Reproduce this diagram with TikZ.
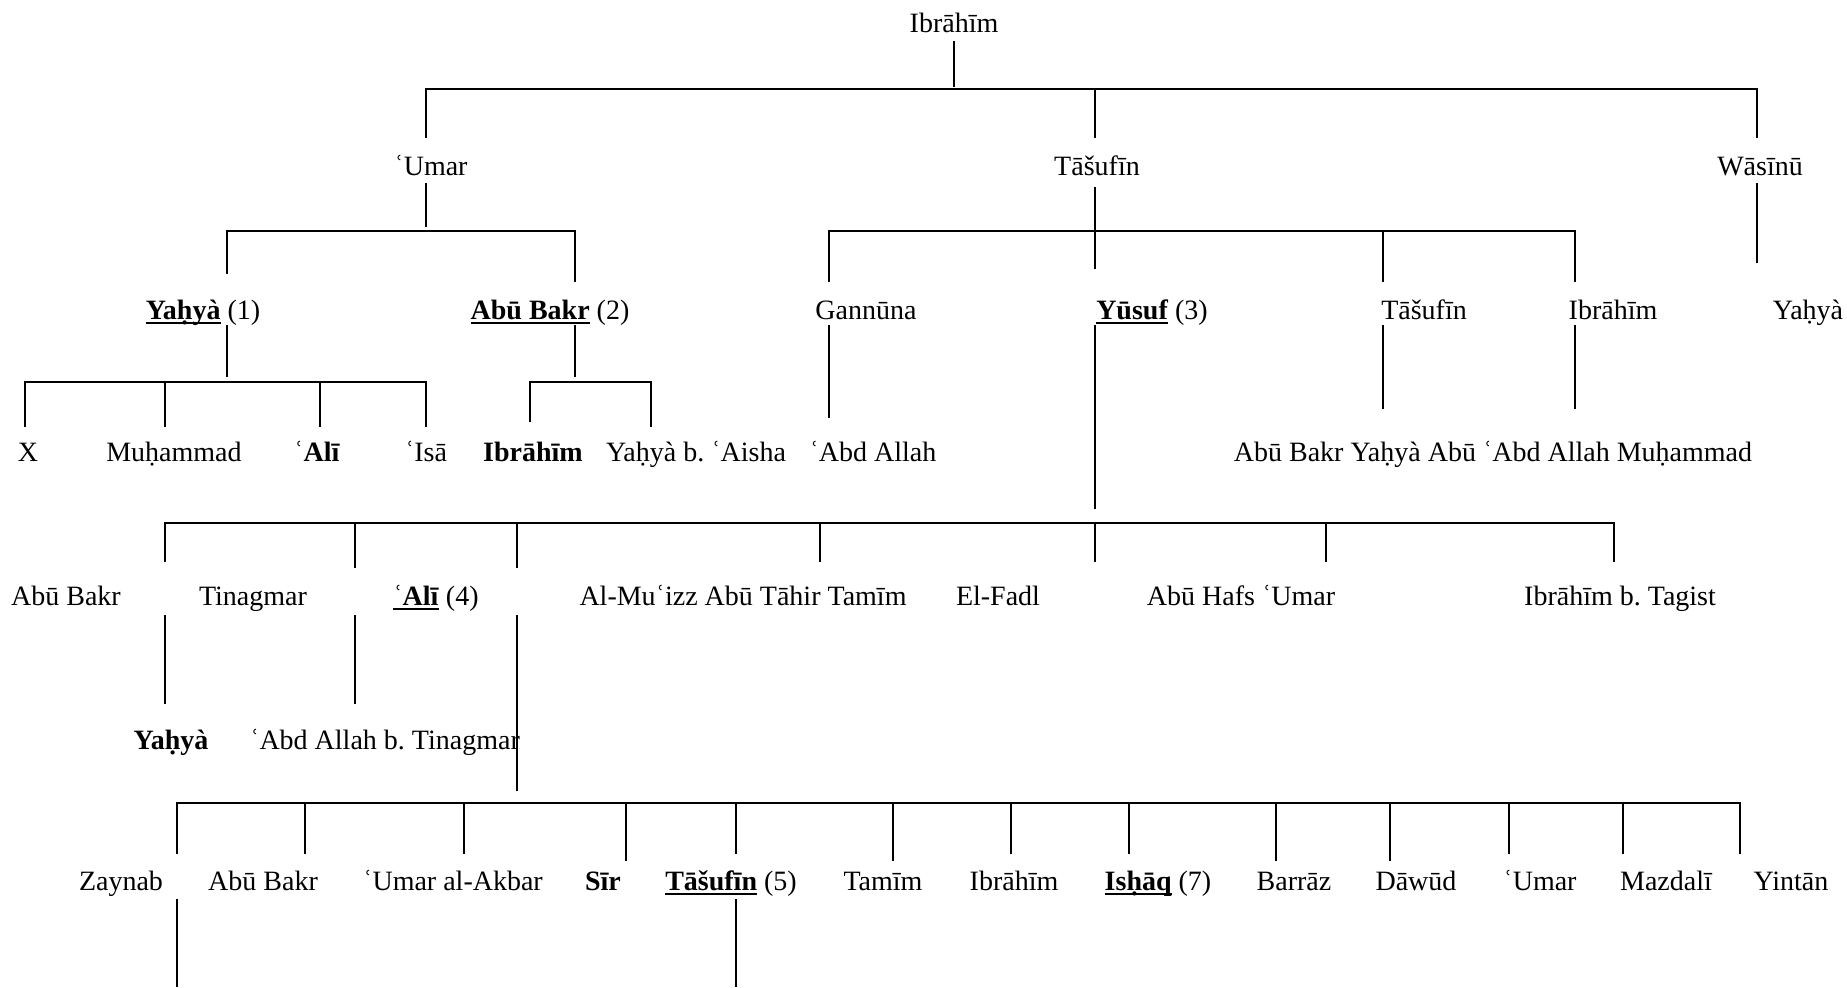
\documentclass[tikz,border=0pt]{standalone}
\usepackage{fontspec}
\setmainfont{Liberation Serif}
\frenchspacing
\newcommand\ulb[1]{\setbox0\hbox{\textbf{#1}}\rlap{\rule[-2pt]{\wd0}{0.9pt}}\box0\relax}
\tikzset{
  p/.style={inner sep=0pt, anchor=mid, font=\fontsize{14}{16}\selectfont},
  ln/.style={line width=0.8pt, line cap=butt},
}
\begin{document}
\begin{tikzpicture}[x=0.5pt,y=-0.5pt]
\useasboundingbox (0,0) rectangle (1847,987);
% row 1
\node[p] (ibrahim) at (954,28) {Ibrāhīm};
% row 2
\node[p] (umar) at (431,171) {ʿUmar};
\node[p] (tasufin) at (1097,171) {Tāšufīn};
\node[p] (wasinu) at (1760,171) {Wāsīnū};
% row 3
\node[p] (yahya1) at (203,315) {\ulb{Yaḥyà} (1)};
\node[p] (abubakr2) at (550,315) {\ulb{Abū Bakr} (2)};
\node[p] (gannuna) at (866,315) {Gannūna};
\node[p] (yusuf) at (1152,315) {\ulb{Yūsuf} (3)};
\node[p] (tasufinB) at (1424,315) {Tāšufīn};
\node[p] (ibrahimB) at (1613,315) {Ibrāhīm};
\node[p] (yahyaW) at (1808,315) {Yaḥyà};
% row 4
\node[p] (x) at (28,457) {X};
\node[p] (muhammad) at (174,457) {Muḥammad};
\node[p] (ali) at (317,457) {ʿ\textbf{Alī}};
\node[p] (isa) at (426,457) {ʿIsā};
\node[p] (ibrahimC) at (533,457) {\textbf{Ibrāhīm}};
\node[p] (yahyaA) at (696,457) {Yaḥyà b. ʿAisha};
\node[p] (abdallah) at (873,457) {ʿAbd Allah};
\node[p] (abubakrY) at (1493,457) {Abū Bakr Yaḥyà Abū ʿAbd Allah Muḥammad};
% row 5
\node[p] (abubakrC) at (66,601) {Abū Bakr};
\node[p] (tinagmar) at (253,601) {Tinagmar};
\node[p] (ali4) at (436,601) {\ulb{ʿAlī} (4)};
\node[p] (muizz) at (743,601) {Al-Muʿizz Abū Tāhir Tamīm};
\node[p] (fadl) at (998,601) {El-Fadl};
\node[p] (hafs) at (1241,601) {Abū Hafs ʿUmar};
\node[p] (tagist) at (1620,601) {Ibrāhīm b. Tagist};
% row 6
\node[p] (yahyaB) at (171,745) {\textbf{Yaḥyà}};
\node[p] (abdallahT) at (385,745) {ʿAbd Allah b. Tinagmar};
% row 7
\node[p] (zaynab) at (121,886) {Zaynab};
\node[p] (abubakrD) at (263,886) {Abū Bakr};
\node[p] (umarA) at (453,886) {ʿUmar al-Akbar};
\node[p] (sir) at (603,886) {\textbf{Sīr}};
\node[p] (tasufin5) at (731,886) {\ulb{Tāšufīn} (5)};
\node[p] (tamim) at (883,886) {Tamīm};
\node[p] (ibrahimD) at (1014,886) {Ibrāhīm};
\node[p] (ishaq) at (1158,886) {\ulb{Isḥāq} (7)};
\node[p] (barraz) at (1294,886) {Barrāz};
\node[p] (dawud) at (1416,886) {Dāwūd};
\node[p] (umarB) at (1540,886) {ʿUmar};
\node[p] (mazdali) at (1666,886) {Mazdalī};
\node[p] (yintan) at (1791,886) {Yintān};

% connectors
\draw[ln] (954,41) -- (954,87);
\draw[ln] (426,138) |- (1757,89) -- (1757,138);
\draw[ln] (1095,89) -- (1095,138);
% Umar
\draw[ln] (426,183) -- (426,227);
\draw[ln] (227,274) |- (575,231) -- (575,282);
% Tasufin
\draw[ln] (1095,187) -- (1095,269);
\draw[ln] (829,282) |- (1575,231) -- (1575,282);
\draw[ln] (1383,231) -- (1383,282);
% Wasinu
\draw[ln] (1757,183) -- (1757,263);
% Yahya (1)
\draw[ln] (227,325) -- (227,377);
\draw[ln] (25,427) |- (426,382) -- (426,427);
\draw[ln] (165,382) -- (165,427);
\draw[ln] (320,382) -- (320,427);
% Abu Bakr (2)
\draw[ln] (575,325) -- (575,377);
\draw[ln] (530,422) |- (651,382) -- (651,427);
% Gannuna, Tasufin, Ibrahim
\draw[ln] (829,325) -- (829,418);
\draw[ln] (1383,325) -- (1383,409);
\draw[ln] (1575,325) -- (1575,409);
% Yusuf
\draw[ln] (1095,325) -- (1095,509);
\draw[ln] (165,562) |- (1614,523) -- (1614,562);
\foreach \xx/\yy in {355/568,517/568,820/562,1095/562,1326/562}
  \draw[ln] (\xx,523) -- (\xx,\yy);
% row 5 descendants
\draw[ln] (165,615) -- (165,704);
\draw[ln] (355,615) -- (355,704);
\draw[ln] (517,615) -- (517,791);
% Ali (4)
\draw[ln] (177,854) |- (1740,803) -- (1740,854);
\foreach \xx/\yy in {305/854,464/854,626/861,736/854,893/861,1011/854,1129/854,1276/861,1390/861,1509/854,1623/854}
  \draw[ln] (\xx,803) -- (\xx,\yy);
% row 7 descendants
\draw[ln] (177,899) -- (177,987);
\draw[ln] (736,899) -- (736,987);
\end{tikzpicture}
\end{document}
